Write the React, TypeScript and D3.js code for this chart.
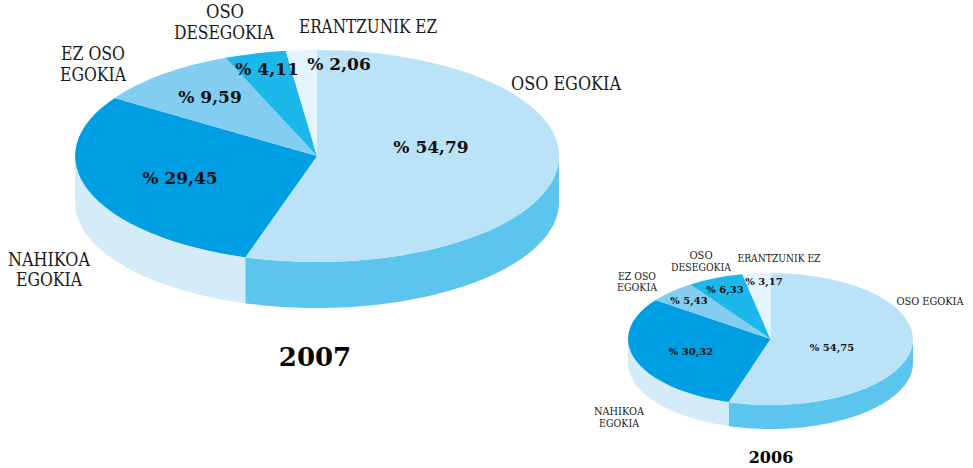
import React from "react";
import * as d3 from "d3";

const categories = ["OSO EGOKIA", "NAHIKOA EGOKIA", "EZ OSO EGOKIA", "OSO DESEGOKIA", "ERANTZUNIK EZ"];
const values2007 = [54.79, 29.45, 9.59, 4.11, 2.06];
const values2006 = [54.75, 30.32, 5.43, 6.33, 3.17];
const valueLabels2007 = ["% 54,79", "% 29,45", "% 9,59", "% 4,11", "% 2,06"];
const valueLabels2006 = ["% 54,75", "% 30,32", "% 5,43", "% 6,33", "% 3,17"];
const topColors = ["#BAE3F7", "#009FE3", "#83CEF0", "#1DB8EB", "#E4F4FC"];
const sideColors = ["#5CC5EE", "#D4ECFA", "#83CEF0", "#1DB8EB", "#E4F4FC"];

type Layout = {
  year: string;
  values: number[];
  valueLabels: string[];
  cx: number; cy: number; rx: number; ry: number; depth: number;
  labelSize: number; valueSize: number; yearSize: number;
  labelLines: { t: string; x: number; y: number; w: number }[];
  valuePos: [number, number][];
  yearPos: [number, number];
};

const large: Layout = {
  year: "2007", values: values2007, valueLabels: valueLabels2007,
  cx: 317, cy: 156, rx: 242, ry: 106, depth: 46,
  labelSize: 18, valueSize: 17, yearSize: 26,
  labelLines: [
    { t: "OSO EGOKIA", x: 566, y: 90, w: 110 },
    { t: "NAHIKOA", x: 49, y: 266, w: 82 },
    { t: "EGOKIA", x: 49, y: 286, w: 66 },
    { t: "EZ OSO", x: 93, y: 60, w: 64 },
    { t: "EGOKIA", x: 93, y: 81, w: 66 },
    { t: "OSO", x: 225, y: 18, w: 38 },
    { t: "DESEGOKIA", x: 224, y: 39, w: 100 },
    { t: "ERANTZUNIK EZ", x: 368, y: 33, w: 138 },
  ],
  valuePos: [[431, 153], [180, 184], [210, 103], [267, 75], [339, 70]],
  yearPos: [315, 366],
};

const small: Layout = {
  year: "2006", values: values2006, valueLabels: valueLabels2006,
  cx: 770.5, cy: 339, rx: 142.5, ry: 66, depth: 24,
  labelSize: 10.5, valueSize: 10, yearSize: 16,
  labelLines: [
    { t: "OSO EGOKIA", x: 930, y: 305, w: 67 },
    { t: "NAHIKOA", x: 619, y: 415, w: 50 },
    { t: "EGOKIA", x: 619, y: 427, w: 40 },
    { t: "EZ OSO", x: 637, y: 280, w: 38 },
    { t: "EGOKIA", x: 637, y: 291, w: 40 },
    { t: "OSO", x: 701, y: 259, w: 23 },
    { t: "DESEGOKIA", x: 701, y: 271, w: 60 },
    { t: "ERANTZUNIK EZ", x: 779, y: 262, w: 83 },
  ],
  valuePos: [[832, 351], [691, 355], [689, 304], [725, 293], [764, 285]],
  yearPos: [771, 463],
};

const serif = "'DejaVu Serif', serif";

function Pie3D({ l }: { l: Layout }) {
  const slices = d3.pie<number>().sort(null).startAngle(0).endAngle(2 * Math.PI)(l.values);
  const arc = d3.arc<d3.PieArcDatum<number>>().innerRadius(0).outerRadius(1);
  const px = d3.scaleLinear().domain([-1, 1]).range([l.cx - l.rx, l.cx + l.rx]);
  const py = d3.scaleLinear().domain([-1, 1]).range([l.cy - l.ry, l.cy + l.ry]);
  const line = d3.line<[number, number]>();

  const sidePath = (a0: number, a1: number) => {
    const lo = Math.max(a0, Math.PI / 2);
    const hi = Math.min(a1, (3 * Math.PI) / 2);
    if (hi <= lo) return null;
    const angles = d3.range(0, 81).map((i) => lo + ((hi - lo) * i) / 80);
    const edge = angles.map((a) => [px(Math.sin(a)), py(-Math.cos(a))] as [number, number]);
    const lower = edge.map(([x, y]) => [x, y + l.depth] as [number, number]).reverse();
    return line([...edge, ...lower]) + "Z";
  };

  return (
    <g>
      {slices.map((s, i) => {
        const d = sidePath(s.startAngle, s.endAngle);
        return d ? <path key={i} d={d} fill={sideColors[i]} /> : null;
      })}
      <g transform={`translate(${l.cx},${l.cy}) scale(${l.rx},${l.ry})`}>
        {slices.map((s, i) => (
          <path key={i} d={arc(s) as string} fill={topColors[i]} />
        ))}
      </g>
      {l.labelLines.map((t, i) => (
        <text key={i} x={t.x} y={t.y} textAnchor="middle" fontFamily={serif} fontSize={l.labelSize}
          fill="#1a1a1a" textLength={t.w} lengthAdjust="spacingAndGlyphs">{t.t}</text>
      ))}
      {l.valueLabels.map((t, i) => (
        <text key={i} x={l.valuePos[i][0]} y={l.valuePos[i][1]} textAnchor="middle" fontFamily={serif}
          fontWeight="bold" fontSize={l.valueSize} fill="#111">{t}</text>
      ))}
      <text x={l.yearPos[0]} y={l.yearPos[1]} textAnchor="middle" fontFamily={serif} fontWeight="bold"
        fontSize={l.yearSize} fill="#000">{l.year}</text>
    </g>
  );
}

export default function App() {
  return (
    <svg width={973} height={468} viewBox="0 0 973 468" aria-label={categories.join(", ")}
      style={{ position: "absolute", left: 0, top: 0, background: "#fff" }}>
      <Pie3D l={large} />
      <Pie3D l={small} />
    </svg>
  );
}
